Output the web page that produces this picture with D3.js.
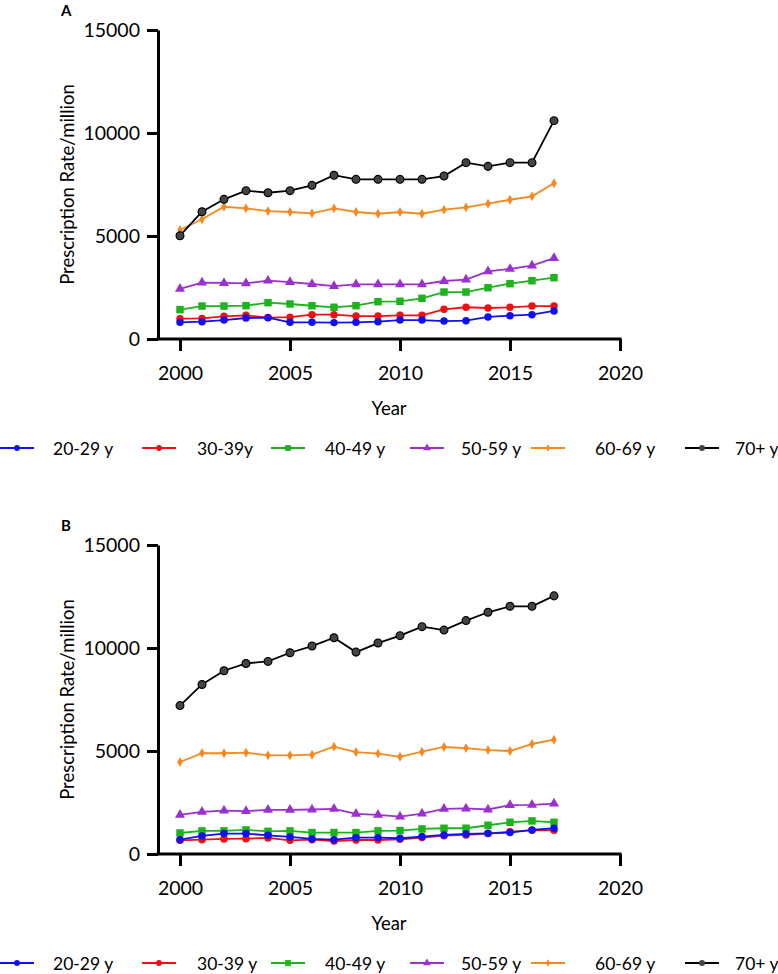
<!DOCTYPE html>
<html>
<head>
<meta charset="utf-8">
<script src="https://cdn.jsdelivr.net/npm/d3@7"></script>
<style>
  body { margin: 0; background: #fff; }
  svg { font-family: Lato, "Open Sans", sans-serif; }
</style>
</head>
<body>
<div class="chart-container"></div>
<script>
// data
const years = [2000, 2001, 2002, 2003, 2004, 2005, 2006, 2007, 2008, 2009, 2010, 2011, 2012, 2013, 2014, 2015, 2016, 2017];
const xTicks = [2000, 2005, 2010, 2015, 2020];
const yTicks = [0, 5000, 10000, 15000];

// panel A
const a20 = [810, 840, 920, 1020, 1035, 810, 810, 795, 810, 840, 920, 920, 870, 890, 1070, 1130, 1180, 1360];
const a30 = [985, 1000, 1100, 1150, 1040, 1060, 1180, 1180, 1115, 1115, 1150, 1150, 1440, 1540, 1505, 1540, 1600, 1600];
const a40 = [1425, 1600, 1600, 1620, 1765, 1700, 1615, 1540, 1620, 1810, 1830, 1975, 2280, 2280, 2490, 2685, 2830, 2975];
const a50 = [2430, 2735, 2720, 2700, 2830, 2765, 2670, 2570, 2650, 2650, 2655, 2655, 2815, 2880, 3285, 3400, 3560, 3930];
const a60 = [5290, 5810, 6420, 6340, 6210, 6165, 6100, 6340, 6165, 6080, 6165, 6080, 6280, 6390, 6570, 6760, 6925, 7560];
const a70 = [5015, 6180, 6780, 7200, 7100, 7200, 7460, 7950, 7750, 7750, 7750, 7750, 7910, 8560, 8380, 8560, 8560, 10600];
const labelsA = ['20-29 y', '30-39y', '40-49 y', '50-59 y', '60-69 y', '70+ y'];

// panel B
const b20 = [695, 875, 990, 990, 905, 830, 730, 695, 795, 795, 765, 845, 925, 975, 1005, 1040, 1170, 1250];
const b30 = [665, 695, 730, 745, 780, 665, 695, 630, 680, 680, 715, 795, 890, 925, 990, 1085, 1150, 1150];
const b40 = [1020, 1120, 1120, 1170, 1100, 1120, 1040, 1040, 1040, 1120, 1135, 1215, 1250, 1250, 1395, 1540, 1605, 1540];
const b50 = [1900, 2045, 2110, 2080, 2140, 2140, 2160, 2190, 1950, 1900, 1815, 1960, 2190, 2210, 2160, 2370, 2385, 2450];
const b60 = [4465, 4900, 4890, 4920, 4790, 4790, 4820, 5210, 4950, 4870, 4720, 4965, 5195, 5140, 5045, 5000, 5340, 5550];
const b70 = [7205, 8230, 8895, 9250, 9350, 9770, 10095, 10500, 9800, 10240, 10600, 11035, 10870, 11330, 11735, 12025, 12025, 12530];
const labelsB = ['20-29 y', '30-39 y', '40-49 y', '50-59 y', '60-69 y', '70+ y'];

// styling per age group (same order as the series)
const colors = ['#1010f0', '#ee1111', '#1db31d', '#9b30d0', '#f5891f', '#000000'];
const symbols = [d3.symbolCircle, d3.symbolCircle, d3.symbolSquare, d3.symbolTriangle, d3.symbolDiamond, d3.symbolCircle];
const symSize = [44, 44, 56, 44, 28, 48];
const legendX = [0, 142, 271, 410, 531, 685];
const legendGap = [53, 55, 54, 51, 64, 50];

const width = 778;
const height = 974;
const margin = { left: 158 };
const plotW = 620 - 158;
const plotH = 309;

const svg = d3.select('.chart-container')
  .append('svg')
  .attr('width', width)
  .attr('height', height);

const xScale = d3.scaleLinear().domain([1999, 2020]).range([0, plotW]);
const yScale = d3.scaleLinear().domain([0, 15000]).range([plotH, 0]);

function drawPanel(top, letter, series, labels) {
  const g = svg.append('g').attr('transform', `translate(${margin.left},${top})`);

  svg.append('text')
    .attr('x', 61).attr('y', top - 14)
    .style('font-size', '15px').style('font-weight', 'bold')
    .text(letter);

  // axes
  const yAxis = d3.axisLeft(yScale).tickValues(yTicks).tickFormat(d3.format('d')).tickSizeInner(11).tickSizeOuter(0).tickPadding(7);
  const yAxisDraw = g.append('g').attr('class', 'yaxis').call(yAxis);
  const xAxis = d3.axisBottom(xScale).tickValues(xTicks).tickFormat(d3.format('d')).tickSizeInner(12).tickSizeOuter(0).tickPadding(15);
  const xAxisDraw = g.append('g').attr('class', 'xaxis').attr('transform', `translate(0,${plotH})`).call(xAxis);

  [yAxisDraw, xAxisDraw].forEach(ax => {
    ax.select('.domain').attr('stroke', '#000').attr('stroke-width', 3);
    ax.selectAll('.tick line').attr('stroke', '#000').attr('stroke-width', 3);
    ax.selectAll('text').style('font-size', '19.5px').attr('fill', '#000').style('font-family', 'Lato, sans-serif');
  });
  // extend x domain line to meet the y axis
  xAxisDraw.select('.domain').attr('d', `M-1.5,0H${plotW + 1.5}`);

  g.append('text')
    .attr('transform', `translate(-84,${plotH / 2}) rotate(-90)`)
    .attr('text-anchor', 'middle')
    .style('font-size', '18.5px')
    .text('Prescription Rate/million');

  g.append('text')
    .attr('x', xScale(2009.5)).attr('y', plotH + 76)
    .attr('text-anchor', 'middle')
    .style('font-size', '18.5px')
    .text('Year');

  const line = d3.line().x((d, i) => xScale(years[i])).y(d => yScale(d));
  const order = [4, 3, 2, 1, 0, 5];
  order.forEach(k => {
    const s = series[k];
    g.append('path')
      .datum(s)
      .attr('fill', 'none')
      .attr('stroke', colors[k])
      .attr('stroke-width', 1.8)
      .attr('d', line);
    g.selectAll('.pt' + k)
      .data(s)
      .enter()
      .append('path')
      .attr('class', 'pt' + k)
      .attr('transform', (d, i) => `translate(${xScale(years[i])},${yScale(d)})`)
      .attr('d', d3.symbol().type(symbols[k]).size(symSize[k]))
      .attr('fill', k === 5 ? '#444' : colors[k])
      .attr('stroke', k === 5 ? '#000' : 'none')
      .attr('stroke-width', 1.2);
  });

  // legend
  const legY = top + plotH + 109;
  const leg = svg.append('g').attr('class', 'legend');
  labels.forEach((lab, k) => {
    const x0 = legendX[k];
    leg.append('line')
      .attr('x1', x0).attr('x2', x0 + 34)
      .attr('y1', legY).attr('y2', legY)
      .attr('stroke', colors[k]).attr('stroke-width', 1.8);
    leg.append('path')
      .attr('transform', `translate(${x0 + 17},${legY})`)
      .attr('d', d3.symbol().type(symbols[k]).size(symSize[k] * 0.6))
      .attr('fill', k === 5 ? '#444' : colors[k]);
    leg.append('text')
      .attr('x', x0 + legendGap[k]).attr('y', legY)
      .attr('dominant-baseline', 'central')
      .style('font-size', '17.5px')
      .text(lab);
  });
}

drawPanel(30, 'A', [a20, a30, a40, a50, a60, a70], labelsA);
drawPanel(545, 'B', [b20, b30, b40, b50, b60, b70], labelsB);
</script>
</body>
</html>
